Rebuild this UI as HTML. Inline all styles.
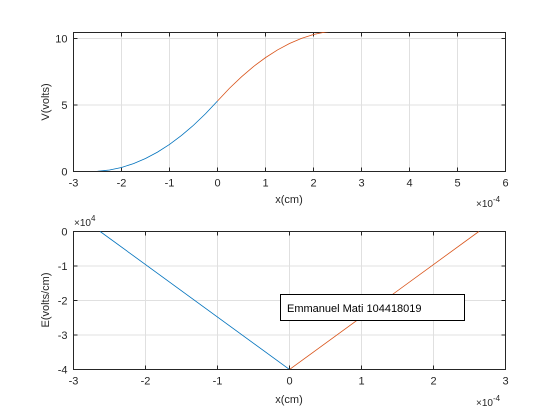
<!DOCTYPE html>
<html><head><meta charset="utf-8"><style>
body{margin:0;background:#fff}
svg{display:block;font-family:"Liberation Sans",Arial,sans-serif;font-size:11px}
</style></head><body>
<svg id="fig" width="560" height="420" viewBox="0 0 560 420">
<rect width="560" height="420" fill="#fff"/>
<defs>
<clipPath id="c1"><rect x="73" y="32" width="433" height="139"/></clipPath>
<clipPath id="c2"><rect x="73" y="231" width="433" height="138"/></clipPath>
</defs>
<g id="ax1"></g>
<g id="ax2"></g>
</svg>
<script>
const vBlueX=[-2.63,-2.5,-2.25,-2,-1.75,-1.5,-1.25,-1,-0.75,-0.5,-0.25,0];
const vBlueY=[0,0.013,0.111,0.304,0.593,0.978,1.459,2.035,2.708,3.476,4.34,5.30];
const vRedX=[0,0.25,0.5,0.75,1,1.25,1.5,1.75,2,2.25,2.5,2.63,6];
const vRedY=[5.30,6.26,7.12,7.89,8.56,9.14,9.62,10.01,10.30,10.49,10.59,10.6,10.6];
const eBlueX=[-2.63,0];
const eBlueY=[0,-4];
const eRedX=[0,2.63];
const eRedY=[-4,0];
const x1Ticks=[-3,-2,-1,0,1,2,3,4,5,6];
const y1Ticks=[0,5,10];
const x2Ticks=[-3,-2,-1,0,1,2,3];
const y2Ticks=[0,-1,-2,-3,-4];
const NS='http://www.w3.org/2000/svg';
function mk(p,t,a,txt){const e=document.createElementNS(NS,t);for(const k in a)e.setAttribute(k,a[k]);if(txt!==undefined)e.textContent=txt;p.appendChild(e);return e;}
function axes(g,L,R,T,B,xmin,xmax,ymin,ymax,xt,yt,clip){
 const sx=v=>L+(v-xmin)/(xmax-xmin)*(R-L);
 const sy=v=>B-(v-ymin)/(ymax-ymin)*(B-T);
 xt.forEach(v=>{const x=sx(v);
  const gl=mk(g,'line',{x1:x,x2:x,y1:T,y2:B,stroke:'#e0e0e0','stroke-width':1});
  
  mk(g,'line',{x1:x,x2:x,y1:B,y2:B-4,stroke:'#262626'});mk(g,'line',{x1:x,x2:x,y1:T,y2:T+4,stroke:'#262626'});
  const t=mk(g,'text',{x:x,y:B+15,'text-anchor':'middle',fill:'#262626'},String(v));
  });
 yt.forEach(v=>{const y=sy(v);
  const gl=mk(g,'line',{x1:L,x2:R,y1:y,y2:y,stroke:'#e0e0e0','stroke-width':1});
  
  mk(g,'line',{x1:L,x2:L+4,y1:y,y2:y,stroke:'#262626'});mk(g,'line',{x1:R,x2:R-4,y1:y,y2:y,stroke:'#262626'});
  const t=mk(g,'text',{x:L-6,y:y+4,'text-anchor':'end',fill:'#262626'},String(v));
  });
 const f=mk(g,'rect',{x:L,y:T,width:R-L,height:B-T,fill:'none',stroke:'#262626','stroke-width':1});
 
 return {sx,sy,line(xs,ys,c,name){const p=mk(g,'polyline',{points:xs.map((x,i)=>sx(x)+','+sy(ys[i])).join(' '),fill:'none',stroke:c,'stroke-width':0.8,'clip-path':'url(#'+clip+')'});
  }};
}
const g1=document.getElementById('ax1'),g2=document.getElementById('ax2');
const a1=axes(g1,73.5,505.5,32.5,171.5,-3,6,0,10.45,x1Ticks,y1Ticks,'c1');
a1.line(vBlueX,vBlueY,'#0072BD','v-depletion-p-side');
a1.line(vRedX,vRedY,'#D95319','v-depletion-n-side');
let t=mk(g1,'text',{x:289,y:203,'text-anchor':'middle',fill:'#262626'},'x(cm)');

t=mk(g1,'text',{x:49,y:102,'text-anchor':'middle',fill:'#262626',transform:'rotate(-90 49 102)'},'V(volts)');

t=mk(g1,'text',{x:476,y:207,fill:'#262626','font-size':'10px'},'×10');mk(t,'tspan',{dy:-5,'font-size':'8px'},'-4');


const a2=axes(g2,73.5,505.5,231.5,369.5,-3,3,-4,0,x2Ticks,y2Ticks,'c2');
a2.line(eBlueX,eBlueY,'#0072BD','e-field-p-side');
a2.line(eRedX,eRedY,'#D95319','e-field-n-side');
t=mk(g2,'text',{x:289,y:403,'text-anchor':'middle',fill:'#262626'},'x(cm)');

t=mk(g2,'text',{x:49,y:300,'text-anchor':'middle',fill:'#262626',transform:'rotate(-90 49 300)'},'E(volts/cm)');

t=mk(g2,'text',{x:476,y:406,fill:'#262626','font-size':'10px'},'×10');mk(t,'tspan',{dy:-5,'font-size':'8px'},'-4');

t=mk(g2,'text',{x:74,y:226,fill:'#262626','font-size':'10px'},'×10');mk(t,'tspan',{dy:-5,'font-size':'8px'},'4');

const box=mk(g2,'rect',{x:280.5,y:294.5,width:184,height:26,fill:'#fff',stroke:'#000'});

t=mk(g2,'text',{x:287,y:312,fill:'#000','font-size':'11px'},'Emmanuel Mati 104418019');

</script>
</body></html>
